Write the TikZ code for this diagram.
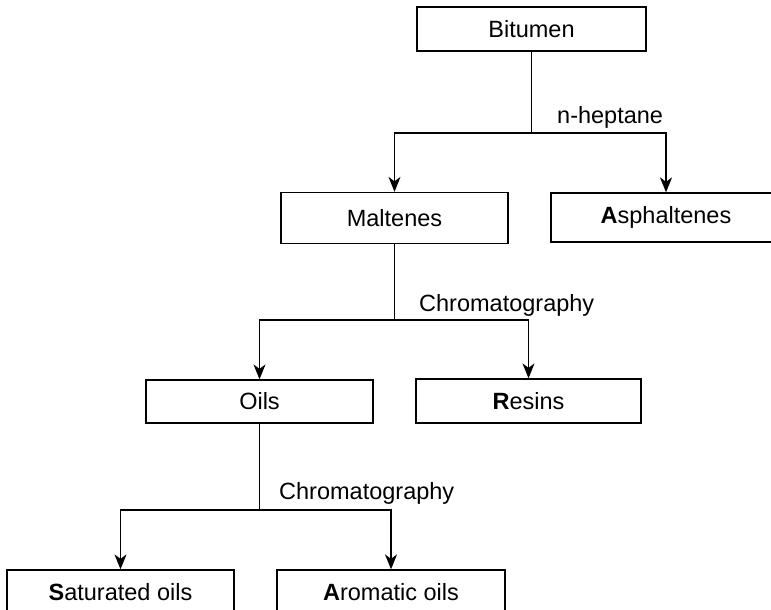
\documentclass[tikz,border=0pt]{standalone}
\usepackage{fontspec}
\setmainfont{Liberation Sans}
\usetikzlibrary{arrows.meta}
\begin{document}
\begin{tikzpicture}[x=1pt,y=-1pt,
  box/.style={draw, line width=1.3pt, rectangle, inner sep=0pt, font=\fontsize{23.5}{27}\selectfont},
  lbl/.style={anchor=base west, inner sep=0pt, font=\fontsize{23.5}{27}\selectfont},
  conn/.style={line width=1.3pt},
  arr/.style={line width=1.3pt, -{Stealth[length=15pt,width=12pt,inset=4.5pt]}}]
\useasboundingbox (0,0) rectangle (771,610);
\node[box, minimum width=229pt, minimum height=44pt] (bit) at (531.5,29) {Bitumen};
\node[box, minimum width=227pt, minimum height=51pt] (mal) at (394.5,218) {Maltenes};
\node[box, minimum width=230pt, minimum height=49pt] (asp) at (666,217.5) {\textbf{A}sphaltenes};
\node[box, minimum width=227pt, minimum height=43pt] (oil) at (259.5,401.5) {Oils};
\node[box, minimum width=225pt, minimum height=44pt] (res) at (528.5,401) {\textbf{R}esins};
\node[box, minimum width=227pt, minimum height=44pt] (sat) at (120.5,592) {\textbf{S}aturated oils};
\node[box, minimum width=228pt, minimum height=44pt] (aro) at (391,592) {\textbf{A}romatic oils};
\coordinate (j1) at (531.5,133);
\coordinate (j2) at (394.5,320);
\coordinate (j3) at (259.5,510);
\draw[conn] (bit.south) -- (j1);
\draw[arr] (j1) -| (mal.north);
\draw[arr] (j1) -| (asp.north);
\draw[conn] (mal.south) -- (j2);
\draw[arr] (j2) -| (oil.north);
\draw[arr] (j2) -| (res.north);
\draw[conn] (oil.south) -- (j3);
\draw[arr] (j3) -| (sat.north);
\draw[arr] (j3) -| (aro.north);
\node[lbl] (l1) at (557,123) {n-heptane};
\node[lbl] (l2) at (419,311) {Chromatography};
\node[lbl] (l3) at (279,499) {Chromatography};
\end{tikzpicture}
\end{document}
